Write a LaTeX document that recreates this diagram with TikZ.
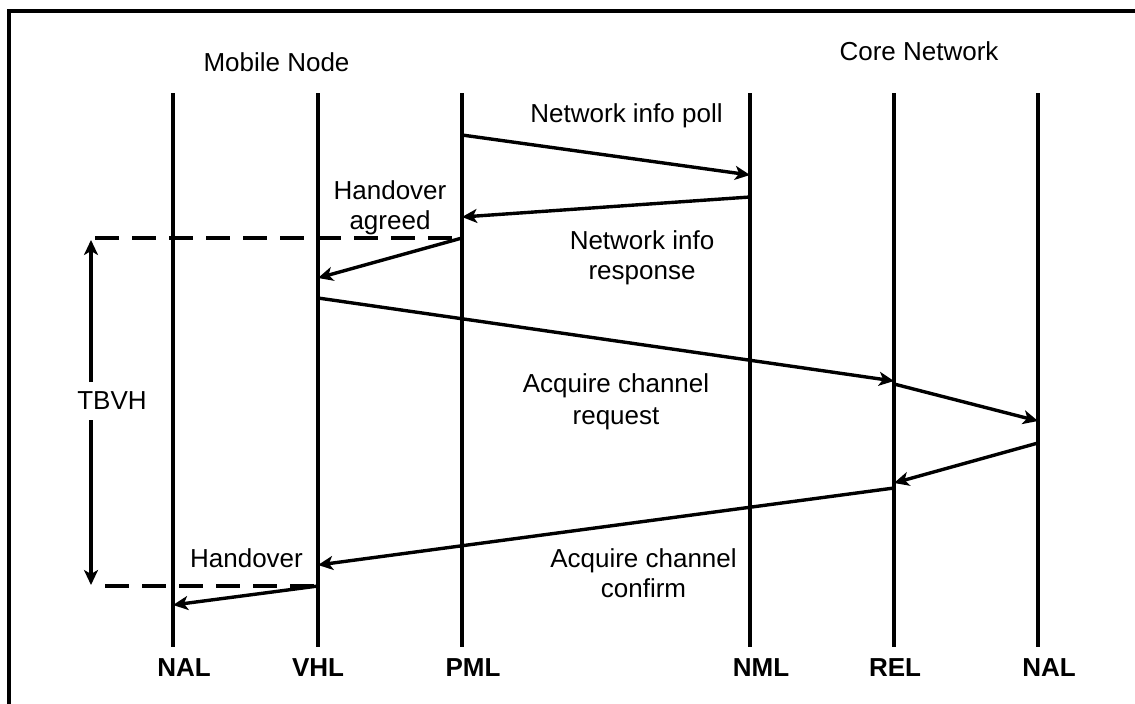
\documentclass[tikz,border=0pt]{standalone}
\usepackage{fontspec}
\setmainfont{Liberation Sans}
\usetikzlibrary{arrows.meta}
\begin{document}
\begin{tikzpicture}[x=1pt,y=-1pt,
  lifeline/.style={line width=3.2pt},
  msg/.style={line width=3.4pt,-{Stealth[length=15pt,width=14pt,inset=4pt]}},
  guide/.style={line width=3.2pt,dash pattern=on 24pt off 13pt},
  lbl/.style={inner sep=0pt,anchor=base,font=\fontsize{26}{30}\selectfont},
  head/.style={inner sep=0pt,anchor=base,font=\fontsize{26}{30}\selectfont\bfseries}]
\useasboundingbox (0,0) rectangle (1135,704);
% frame (only top and left edges fall inside the picture)
\draw[line width=3.4pt] (9,704) -- (9,11) -- (1135,11);

% lifelines
\foreach \n/\x in {nalA/173,vhl/318,pml/462,nml/750,rel/894,nalB/1038}{
  \coordinate (\n-top) at (\x,93);
  \coordinate (\n-bot) at (\x,647);
  \draw[lifeline] (\n-top) -- (\n-bot);
}

% lifeline names
\node[head] (lnalA) at (184,676) {NAL};
\node[head] (lvhl)  at (318,676) {VHL};
\node[head] (lpml)  at (473,676) {PML};
\node[head] (lnml)  at (761,676) {NML};
\node[head] (lrel)  at (895,676) {REL};
\node[head] (lnalB) at (1049,676) {NAL};

% group titles
\node[lbl] (mn) at (276.5,71.5) {Mobile Node};
\node[lbl] (cn) at (919,60) {Core Network};

% message end points
\coordinate (p1) at (462,135);  \coordinate (n1) at (750,175);
\coordinate (n2) at (750,197);  \coordinate (p2) at (462,217);
\coordinate (p3) at (462,238);  \coordinate (v3) at (318,278);
\coordinate (v4) at (318,298);  \coordinate (r4) at (894,381);
\coordinate (r5) at (894,384);  \coordinate (b5) at (1038,421);
\coordinate (b6) at (1038,443); \coordinate (r6) at (894,483);
\coordinate (r7) at (894,488);  \coordinate (v7) at (318,565);
\coordinate (v8) at (318,586);  \coordinate (a8) at (173,605);

\draw[msg] (p1) -- (n1);
\draw[msg] (n2) -- (p2);
\draw[msg] (p3) -- (v3);
\draw[msg] (v4) -- (r4);
\draw[msg] (r5) -- (b5);
\draw[msg] (b6) -- (r6);
\draw[msg] (r7) -- (v7);
\draw[msg] (v8) -- (a8);

% message labels
\node[lbl] (t1) at (626.5,122) {Network info poll};
\node[lbl] (t2a) at (390,199) {Handover};
\node[lbl] (t2b) at (390,229) {agreed};
\node[lbl] (t3a) at (642,249) {Network info};
\node[lbl] (t3b) at (642,279) {response};
\node[lbl] (t4a) at (616,392.5) {Acquire channel};
\node[lbl] (t4b) at (616,424) {request};
\node[lbl] (t5a) at (643.5,567) {Acquire channel};
\node[lbl] (t5b) at (643.5,597) {confirm};
\node[lbl] (t6) at (246.5,567) {Handover};

% TBVH interval
\coordinate (d1s) at (95,238);
\coordinate (d2s) at (105,586);
\draw[guide] (d1s) -- (p3);
\draw[guide] (d2s) -- (v8);
\coordinate (tb1) at (91,240);
\coordinate (tb2) at (91,585);
\coordinate (tbm1) at (91,382);
\coordinate (tbm2) at (91,420);
\draw[msg] (tbm1) -- (tb1);
\draw[msg] (tbm2) -- (tb2);
\node[lbl] (tbvh) at (112,409) {TBVH};
\end{tikzpicture}
\end{document}
